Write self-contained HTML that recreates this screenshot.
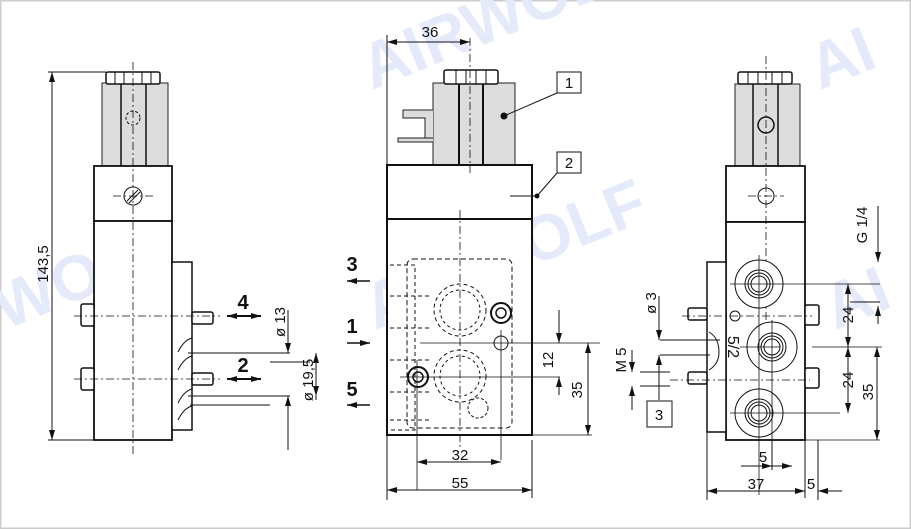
<!DOCTYPE html>
<html><head><meta charset="utf-8"><style>
html,body{margin:0;padding:0;background:#fff;width:911px;height:529px;overflow:hidden}
svg{display:block}
text{font-family:"Liberation Sans",Arial,sans-serif}
</style></head><body>
<svg width="911" height="529" viewBox="0 0 911 529" xmlns="http://www.w3.org/2000/svg">
<defs>
<marker id="a" viewBox="0 0 10 6" refX="10" refY="3" markerWidth="10" markerHeight="6" orient="auto-start-reverse" markerUnits="userSpaceOnUse"><path d="M0,0 L10,3 L0,6 z" fill="#111"/></marker>
</defs>
<rect x="0.5" y="0.5" width="910" height="528" fill="#fff" stroke="#ccc" stroke-width="2"/>
<g fill="#e4eafa" font-weight="bold" font-size="64">
<text transform="translate(372,90) rotate(-22)">AIRWOLF</text>
<text transform="translate(5,330) rotate(-22)">WOLF</text>
<text transform="translate(375,330) rotate(-22)">AIRWOLF</text>
<text transform="translate(820,90) rotate(-22)">AI</text>
<text transform="translate(835,330) rotate(-22)">AI</text>
</g>

<g stroke="#111" fill="none" stroke-width="1">
<rect x="102" y="83" width="66" height="83" fill="#dcdcdc" stroke="#222"/>
<rect x="106" y="72" width="54" height="12" rx="2" fill="#fff" stroke-width="1.5"/>
<path d="M115,72v12 M124,72v12 M142,72v12 M151,72v12"/>
<path d="M121,84v82 M146,84v82" stroke-width="1.5"/>
<circle cx="133" cy="118" r="7" stroke-dasharray="3,2"/>
<rect x="94" y="166" width="78" height="55" fill="#fff" stroke-width="1.8"/>
<rect x="94" y="221" width="78" height="219" fill="#fff" stroke-width="1.8"/>
<rect x="172" y="262" width="20" height="168" fill="#fff" stroke-width="1.5"/>
<circle cx="133" cy="196" r="9"/>
<path d="M127,201l11,-11 M129,203l11,-11"/>
<path d="M133,62v395 M113,196h43" stroke-dasharray="8,3,2,3" stroke-width="0.8"/>
<rect x="81" y="304" width="13" height="22" rx="2" fill="#fff" stroke-width="1.5"/>
<rect x="81" y="368" width="13" height="22" rx="2" fill="#fff" stroke-width="1.5"/>
<rect x="192" y="312" width="21" height="12" rx="2" fill="#fff" stroke-width="1.5"/>
<rect x="192" y="373" width="21" height="12" rx="2" fill="#fff" stroke-width="1.5"/>
<path d="M74,316h146 M74,379h146" stroke-dasharray="8,3,2,3" stroke-width="0.8"/>
<path d="M178,352q6,-12 14,-14 M178,370q6,-12 14,-14 M178,403q6,-12 14,-14 M178,420q6,-12 14,-14"/>
<path d="M188,353h102 M188,396h102 M190,405h80 M270,362h40"/>
<path d="M48,72h58 M48,440h46"/>
<line x1="52" y1="72" x2="52" y2="440" marker-start="url(#a)" marker-end="url(#a)"/>
<line x1="227" y1="316" x2="261" y2="316" marker-start="url(#a)" marker-end="url(#a)" stroke-width="2"/>
<line x1="227" y1="379" x2="261" y2="379" marker-start="url(#a)" marker-end="url(#a)" stroke-width="2"/>
<line x1="288" y1="310" x2="288" y2="353" marker-end="url(#a)"/>
<line x1="288" y1="450" x2="288" y2="396" marker-end="url(#a)"/>
<line x1="316" y1="355" x2="316" y2="400"/>
<line x1="316" y1="375" x2="316" y2="353" marker-end="url(#a)"/>
<line x1="316" y1="380" x2="316" y2="396" marker-end="url(#a)"/>

<path d="M433,83h82v82h-82z" fill="#dcdcdc" stroke="#222"/>
<path d="M433,110h-30v8h22v20h8 M433,138h-35v4h35" fill="#dcdcdc" stroke="#222"/>
<path d="M459,84v82 M483,84v82" stroke-width="2"/>
<rect x="444" y="70" width="54" height="14" rx="2" fill="#fff" stroke-width="1.5"/>
<path d="M456,70v14 M466,70v14 M476,70v14 M486,70v14"/>
<rect x="387" y="165" width="145" height="54" fill="#fff" stroke-width="2"/>
<rect x="387" y="219" width="145" height="216" fill="#fff" stroke-width="2"/>
<path d="M470,38v135 M460,210v240" stroke-dasharray="8,3,2,3" stroke-width="0.8"/>
<rect x="407" y="259" width="105" height="169" rx="6" stroke-dasharray="5,3"/>
<path d="M390,265h25v165h-25 M390,296h40 M390,328h40 M390,360h40 M390,392h40 M390,420h40" stroke-dasharray="4,3"/>
<circle cx="460" cy="310" r="26" stroke-dasharray="4,3"/>
<circle cx="460" cy="310" r="20" stroke-dasharray="3,3"/>
<circle cx="460" cy="376" r="26" stroke-dasharray="4,3"/>
<circle cx="460" cy="376" r="20" stroke-dasharray="3,3"/>
<circle cx="478" cy="408" r="10" stroke-dasharray="3,2"/>
<circle cx="501" cy="313" r="10" stroke-width="2"/><circle cx="501" cy="313" r="5" stroke-width="1.5"/>
<circle cx="418" cy="377" r="10" stroke-width="2"/><circle cx="418" cy="377" r="5" stroke-width="1.5"/>
<circle cx="501" cy="343" r="7"/>
<path d="M417,360v130 M501,330v130 M400,377h160 M420,343h180 M532,435h60" stroke-width="0.8"/>
<path d="M387,35v465 M532,440v58"/>
<line x1="387" y1="42" x2="470" y2="42" marker-start="url(#a)" marker-end="url(#a)"/>
<line x1="417" y1="462" x2="501" y2="462" marker-start="url(#a)" marker-end="url(#a)"/>
<line x1="387" y1="490" x2="532" y2="490" marker-start="url(#a)" marker-end="url(#a)"/>
<line x1="559" y1="310" x2="559" y2="343" marker-end="url(#a)"/>
<line x1="559" y1="395" x2="559" y2="377" marker-end="url(#a)"/>
<line x1="588" y1="343" x2="588" y2="435" marker-start="url(#a)" marker-end="url(#a)"/>
<line x1="370" y1="281" x2="347" y2="281" marker-end="url(#a)" stroke-width="1.5"/>
<line x1="347" y1="343" x2="370" y2="343" marker-end="url(#a)" stroke-width="1.5"/>
<line x1="370" y1="405" x2="347" y2="405" marker-end="url(#a)" stroke-width="1.5"/>
<rect x="557" y="72" width="24" height="21" fill="#fff"/>
<rect x="557" y="152" width="24" height="21" fill="#fff"/>
<path d="M557,93L504,116 M557,173L537,196 M510,196h25"/>
<circle cx="504" cy="116" r="3" fill="#111"/>
<circle cx="537" cy="196" r="2" fill="#111"/>

<rect x="735" y="84" width="65" height="82" fill="#dcdcdc" stroke="#222"/>
<path d="M753,84v82 M778,84v82" stroke-width="1.5"/>
<rect x="738" y="72" width="54" height="12" rx="2" fill="#fff" stroke-width="1.5"/>
<path d="M748,72v12 M758,72v12 M772,72v12 M782,72v12"/>
<circle cx="766" cy="125" r="8" stroke-width="1.5"/>
<rect x="726" y="166" width="79" height="56" fill="#fff" stroke-width="1.8"/>
<rect x="726" y="222" width="79" height="218" fill="#fff" stroke-width="1.8"/>
<rect x="707" y="262" width="19" height="170" fill="#fff" stroke-width="1.5"/>
<circle cx="766" cy="196" r="8"/>
<path d="M766,56v310 M748,196h36" stroke-dasharray="8,3,2,3" stroke-width="0.8"/>
<g fill="#fff">
<circle cx="759" cy="284" r="24"/><circle cx="759" cy="284" r="14"/><circle cx="759" cy="284" r="11"/><circle cx="759" cy="284" r="8"/>
<circle cx="772" cy="347" r="25"/><circle cx="772" cy="347" r="14"/><circle cx="772" cy="347" r="11"/><circle cx="772" cy="347" r="8"/>
<circle cx="759" cy="413" r="24"/><circle cx="759" cy="413" r="14"/><circle cx="759" cy="413" r="11"/><circle cx="759" cy="413" r="8"/>
</g>
<path d="M759,255v240 M772,320v145 M730,284h150 M740,347h40 M730,413h110 M812,347h70 M805,440h75" stroke-width="0.8"/>
<rect x="805" y="305" width="14" height="20" rx="2" fill="#fff" stroke-width="1.5"/>
<rect x="805" y="368" width="14" height="20" rx="2" fill="#fff" stroke-width="1.5"/>
<rect x="688" y="308" width="19" height="12" rx="2" fill="#fff" stroke-width="1.5"/>
<rect x="688" y="372" width="19" height="12" rx="2" fill="#fff" stroke-width="1.5"/>
<circle cx="735" cy="316" r="5"/>
<path d="M682,316h130 M670,380h140" stroke-dasharray="8,3,2,3" stroke-width="0.8"/>
<path d="M709,332q10,6 10,20q0,12 -10,18"/>
<path d="M660,340h60 M660,355h50 M640,372h30 M640,386h30"/>
<line x1="659" y1="296" x2="659" y2="340" marker-end="url(#a)"/>
<line x1="659" y1="400" x2="659" y2="355" marker-end="url(#a)"/>
<line x1="632" y1="350" x2="632" y2="372" marker-end="url(#a)"/>
<line x1="632" y1="410" x2="632" y2="386" marker-end="url(#a)"/>
<line x1="878" y1="206" x2="878" y2="262" marker-end="url(#a)"/>
<line x1="878" y1="324" x2="878" y2="306" marker-end="url(#a)"/>
<path d="M850,302h30"/>
<line x1="848" y1="284" x2="848" y2="347" marker-start="url(#a)" marker-end="url(#a)"/>
<line x1="848" y1="347" x2="848" y2="413" marker-start="url(#a)" marker-end="url(#a)"/>
<line x1="877" y1="347" x2="877" y2="440" marker-start="url(#a)" marker-end="url(#a)"/>
<path d="M707,432v68 M805,440v58 M818,440v60 M772,440v30"/>
<line x1="741" y1="466" x2="772" y2="466" marker-end="url(#a)"/>
<line x1="792" y1="466" x2="772" y2="466" marker-start="url(#a)"/>
<line x1="707" y1="491" x2="805" y2="491" marker-start="url(#a)" marker-end="url(#a)"/>
<line x1="842" y1="491" x2="818" y2="491" marker-end="url(#a)"/>
<rect x="647" y="401" width="25" height="26" fill="#fff"/>
</g>

<g fill="#111" font-size="15">
<text x="243" y="309" text-anchor="middle" font-size="20" font-weight="bold">4</text>
<text x="243" y="372" text-anchor="middle" font-size="20" font-weight="bold">2</text>
<text transform="translate(48,264) rotate(-90)" text-anchor="middle">143,5</text>
<text transform="translate(285,322) rotate(-90)" text-anchor="middle">ø 13</text>
<text transform="translate(313,380) rotate(-90)" text-anchor="middle">ø 19,5</text>
<text x="430" y="37" text-anchor="middle">36</text>
<text x="569" y="88" text-anchor="middle">1</text>
<text x="569" y="168" text-anchor="middle">2</text>
<text x="352" y="271" text-anchor="middle" font-size="20" font-weight="bold">3</text>
<text x="352" y="333" text-anchor="middle" font-size="20" font-weight="bold">1</text>
<text x="352" y="396" text-anchor="middle" font-size="20" font-weight="bold">5</text>
<text transform="translate(553,360) rotate(-90)" text-anchor="middle">12</text>
<text transform="translate(582,390) rotate(-90)" text-anchor="middle">35</text>
<text x="460" y="460" text-anchor="middle">32</text>
<text x="460" y="488" text-anchor="middle">55</text>
<text transform="translate(867,225) rotate(-90)" text-anchor="middle">G 1/4</text>
<text transform="translate(853,315) rotate(-90)" text-anchor="middle">24</text>
<text transform="translate(853,380) rotate(-90)" text-anchor="middle">24</text>
<text transform="translate(873,392) rotate(-90)" text-anchor="middle">35</text>
<text transform="translate(728,347) rotate(90)" text-anchor="middle" font-size="16">5/2</text>
<text transform="translate(656,303) rotate(-90)" text-anchor="middle">ø 3</text>
<text transform="translate(626,360) rotate(-90)" text-anchor="middle">M 5</text>
<text x="659" y="420" text-anchor="middle">3</text>
<text x="763" y="462" text-anchor="middle">5</text>
<text x="756" y="489" text-anchor="middle">37</text>
<text x="811" y="489" text-anchor="middle">5</text>
</g>
</svg>
</body></html>
